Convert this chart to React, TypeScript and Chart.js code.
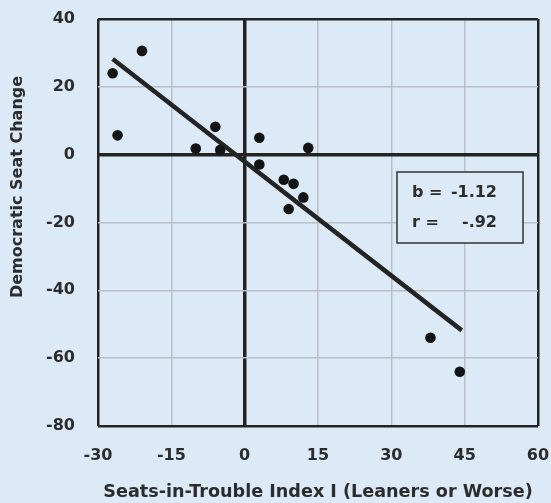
import React, { useEffect, useRef } from "react";
import { Chart, registerables } from "chart.js";

Chart.register(...registerables);

// Data
const pointsX: number[] = [-27, -21, -26, -10, -6, -5, 3, 3, 13, 8, 10, 12, 9, 38, 44];
const pointsY: number[] = [24, 30.6, 5.7, 1.8, 8.2, 1.4, 5, -2.9, 2, -7.4, -8.6, -12.6, -16, -54, -64];
const fitX: number[] = [-27, 44.4];
const fitY: number[] = [28.2, -51.8];
const xTicks: number[] = [-30, -15, 0, 15, 30, 45, 60];
const yTicks: number[] = [-80, -60, -40, -20, 0, 20, 40];
const statLabels: string[] = ["b =", "r ="];
const statValues: string[] = ["-1.12", "-.92"];
const xTitle = "Seats-in-Trouble Index I (Leaners or Worse)";
const yTitle = "Democratic Seat Change";

const BG = "#dce9f6";
const DARK = "#232323";
const TEXT = "#2c2c2c";
const GRID = "#b9bfc6";
const FONT = "'DejaVu Sans'";

const statBox = {
  id: "statBox",
  afterDatasetsDraw(chart: any) {
    const ctx = chart.ctx;
    const a = chart.chartArea;
    const left = a.left + 299;
    const top = a.top + 153;
    const w = 126;
    const h = 71;
    ctx.save();
    ctx.fillStyle = BG;
    ctx.fillRect(left, top, w, h);
    ctx.strokeStyle = "#333";
    ctx.lineWidth = 1.5;
    ctx.strokeRect(left, top, w, h);
    ctx.fillStyle = TEXT;
    ctx.font = `bold 16px ${FONT}`;
    ctx.textBaseline = "middle";
    const rows = [top + 21, top + 51];
    statLabels.forEach((lab, i) => {
      ctx.textAlign = "left";
      ctx.fillText(lab, left + 15, rows[i]);
      ctx.textAlign = "right";
      ctx.fillText(statValues[i], left + 100, rows[i]);
    });
    ctx.restore();
  },
};

const yTitlePlugin = {
  id: "yTitle",
  afterDraw(chart: any) {
    const ctx = chart.ctx;
    const a = chart.chartArea;
    ctx.save();
    ctx.translate(18, a.top + 168);
    ctx.rotate(-Math.PI / 2);
    ctx.fillStyle = TEXT;
    ctx.font = `bold 16px ${FONT}`;
    ctx.textAlign = "center";
    ctx.textBaseline = "middle";
    ctx.fillText(yTitle, 0, 0);
    ctx.restore();
  },
};

export default function App() {
  const ref = useRef<HTMLCanvasElement | null>(null);
  useEffect(() => {
    if (!ref.current) return;
    const isEdge = (v: number, lo: number, hi: number) => v === 0 || v === lo || v === hi;
    const chart = new Chart(ref.current, {
      type: "scatter",
      data: {
        datasets: [
          {
            type: "line",
            data: fitX.map((x, i) => ({ x, y: fitY[i] })),
            borderColor: DARK,
            borderWidth: 4.5,
            pointRadius: 0,
            fill: false,
            order: 2,
          } as any,
          {
            data: pointsX.map((x, i) => ({ x, y: pointsY[i] })),
            backgroundColor: "#141414",
            borderColor: "#141414",
            pointRadius: 5.3,
            pointBorderWidth: 0,
            order: 1,
          },
        ],
      },
      plugins: [statBox, yTitlePlugin],
      options: {
        animation: false,
        responsive: false,
        events: [],
        layout: { padding: { top: 19, right: 13, left: 0, bottom: 0 } },
        plugins: { legend: { display: false }, tooltip: { enabled: false } },
        scales: {
          x: {
            type: "linear",
            min: -30,
            max: 60,
            afterBuildTicks: (s: any) => {
              s.ticks = xTicks.map((v) => ({ value: v }));
            },
            afterFit: (s: any) => {
              s.height = 77;
              s.paddingLeft = 0;
              s.paddingRight = 0;
            },
            grid: {
              drawTicks: false,
              color: (c: any) => (isEdge(c.tick.value, -30, 60) ? DARK : GRID),
              lineWidth: (c: any) => (c.tick.value === 0 ? 3.5 : isEdge(c.tick.value, -30, 60) ? 2.5 : 1.5),
            },
            border: { display: false },
            ticks: {
              padding: 20,
              color: TEXT,
              font: { family: FONT, weight: "bold", size: 16 },
            },
            title: {
              display: true,
              text: xTitle,
              color: TEXT,
              font: { family: FONT, weight: "bold", size: 17.6 },
              padding: { top: 0, bottom: 0 },
            },
          },
          y: {
            type: "linear",
            min: -80,
            max: 40,
            afterBuildTicks: (s: any) => {
              s.ticks = yTicks.map((v) => ({ value: v }));
            },
            afterFit: (s: any) => {
              s.width = 98;
              s.paddingTop = 0;
              s.paddingBottom = 0;
            },
            grid: {
              drawTicks: false,
              color: (c: any) => (isEdge(c.tick.value, -80, 40) ? DARK : GRID),
              lineWidth: (c: any) => (c.tick.value === 0 ? 3.5 : isEdge(c.tick.value, -80, 40) ? 2.5 : 1.5),
            },
            border: { display: false },
            ticks: {
              padding: 23,
              color: TEXT,
              font: { family: FONT, weight: "bold", size: 16 },
            },
            title: { display: false },
          },
        },
      },
    });
    return () => chart.destroy();
  }, []);
  return (
    <div style={{ position: "fixed", left: 0, top: 0, width: 551, height: 503, background: BG }}>
      <canvas ref={ref} width={551} height={503} style={{ display: "block" }} />
    </div>
  );
}
